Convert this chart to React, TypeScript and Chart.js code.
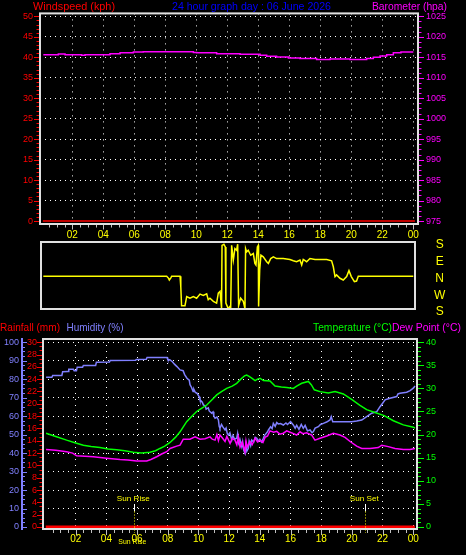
import React, { useEffect, useRef } from 'react';
import { Chart, registerables } from 'chart.js';

Chart.register(...registerables);

const W = 466;
const H = 555;
const FONT = "'Liberation Sans', Arial, sans-serif";

const RED = '#ff0000';
const MAGENTA = '#ff00ff';
const TITLE_BLUE = '#0000ff';
const YELLOW = '#ffff00';
const HUM_BLUE = '#8080ff';
const GREEN = '#00ff00';
const FRAME = '#e0e0e0';
const GRID = '#ffffff';
const TICK_GREY = '#c0c0c0';

// ---------------- text ----------------
const topTitles = ['Windspeed (kph)', '24 hour graph day : 06 June 2026', 'Barometer (hpa)'];
const bottomTitles = ['Rainfall (mm)', 'Humidity (%)', 'Temperature (°C)', 'Dew Point (°C)'];
const compassLabels = ['S', 'W', 'N', 'E', 'S']; // bottom -> top
const sunRiseLabel = 'Sun Rise';
const sunSetLabel = 'Sun Set';

// ---------------- data ----------------
const sunRiseHour = 5.82;
const sunSetHour = 20.87;

const windHours = [0.1, 24.1];
const windSpeed = [0, 0];

const rainHours = [0.05, 24.1];
const rainValues = [0, 0];

const baroHours = [0.13, 1.1, 1.53, 2.6, 2.82, 4.43, 5.08, 5.94, 6.58, 9.81,
  10.02, 11.31, 12.82, 14.11, 14.54, 15.18, 15.94, 16.69, 17.76, 18.62,
  19.91, 20.99, 21.42, 21.85, 22.28, 22.71, 23.2, 24.0];
const baroValues = [1015.64, 1015.8, 1015.64, 1015.48, 1015.64, 1015.88, 1016.12, 1016.28, 1016.36, 1016.2,
  1016.12, 1015.88, 1015.72, 1015.48, 1015.24, 1015.08, 1014.84, 1014.68, 1014.44, 1014.6,
  1014.44, 1014.68, 1015.0, 1015.32, 1015.64, 1016.12, 1016.28, 1016.28];

const dirHours = [0.13, 8.09, 8.2, 8.26, 8.35, 8.41, 8.95, 9.0, 9.05, 9.27,
  9.38, 9.59, 9.81, 10.02, 10.24, 10.45, 10.67, 10.77, 10.88, 11.1,
  11.31, 11.42, 11.53, 11.63, 11.66, 11.7, 11.78, 11.87, 11.91, 12.06,
  12.17, 12.22, 12.28, 12.39, 12.49, 12.6, 12.67, 12.73, 12.86, 13.03,
  13.14, 13.18, 13.25, 13.35, 13.51, 13.68, 13.78, 13.85, 13.94, 14.0,
  14.02, 14.09, 14.17, 14.32, 14.54, 14.65, 14.8, 14.97, 15.18, 15.61,
  16.04, 16.26, 16.47, 16.69, 16.8, 16.9, 17.12, 17.33, 17.66, 18.41,
  18.73, 18.84, 18.95, 19.05, 19.27, 19.48, 19.7, 19.85, 20.0, 20.2,
  20.34, 20.45, 24.0];
const dirBearings = [356, 356, 346, 336, 346, 356, 356, 300, 198, 198,
  247, 238, 247, 238, 260, 253, 262, 230, 238, 221,
  212, 265, 274, 185, 162, 162, 168, 153, 212, 182,
  194, 185, 162, 83, 145, 136, 168, 198, 238, 221,
  182, 145, 127, 136, 109, 118, 65, 56, 153, 162,
  194, 29, 109, 100, 74, 65, 91, 100, 91, 91,
  86, 79, 74, 83, 56, 86, 74, 91, 86, 86,
  79, 47, 354, 3, 345, 336, 354, 26, 354, 327,
  330, 356, 356];

const humHours = [0.07, 0.45, 0.5, 1.1, 1.15, 1.5, 1.55, 1.85, 1.9, 2.05,
  2.1, 2.45, 2.5, 3.3, 3.35, 4.2, 4.25, 5.9, 5.95, 6.6,
  6.65, 7.95, 8.0, 8.15, 8.3, 8.45, 8.6, 8.8, 9.0, 9.1,
  9.25, 9.4, 9.45, 9.55, 9.65, 9.7, 9.8, 9.9, 10.05, 10.1,
  10.25, 10.32, 10.45, 10.5, 10.64, 10.7, 10.86, 10.95, 11.0, 11.08,
  11.2, 11.3, 11.35, 11.4, 11.5, 11.6, 11.73, 11.8, 11.88, 11.95,
  12.05, 12.17, 12.25, 12.35, 12.49, 12.55, 12.62, 12.7, 12.82, 12.88,
  12.95, 13.03, 13.08, 13.15, 13.25, 13.3, 13.4, 13.47, 13.6, 13.7,
  13.8, 13.9, 14.0, 14.1, 14.23, 14.3, 14.4, 14.5, 14.56, 14.7,
  14.8, 14.88, 15.0, 15.1, 15.2, 15.35, 15.53, 15.7, 15.8, 16.0,
  16.18, 16.3, 16.4, 16.55, 16.7, 16.83, 16.95, 17.1, 17.27, 17.4,
  17.49, 17.6, 17.81, 17.95, 18.14, 18.35, 18.57, 18.65, 18.75, 19.44,
  19.98, 20.31, 20.64, 20.96, 21.29, 21.62, 21.83, 22.0, 22.16, 22.48,
  22.92, 23.0, 23.13, 23.57, 23.79, 24.0, 24.11];
const humValues = [81, 81, 82, 82, 84, 84.2, 85.4, 85.4, 84.6, 84.6,
  86.5, 86.5, 87.4, 87.4, 89.2, 89.3, 90.1, 90.2, 90.6, 90.8,
  91.7, 91.7, 90.6, 90.4, 89.4, 88.0, 86.8, 85.0, 84.6, 82.5,
  80.5, 79.5, 77.0, 75.5, 73.3, 74.5, 72.8, 72.4, 70.5, 68.8,
  67.5, 66.1, 65.5, 63.8, 64.5, 62.8, 61.6, 62.3, 60.0, 58.9,
  59.5, 57.9, 54.5, 53.4, 55.5, 54.0, 52.5, 53.5, 50.5, 49.8,
  51.0, 47.1, 49.5, 47.5, 48.0, 50.5, 45.5, 47.5, 43.5, 46.0,
  41.5, 39.9, 44.5, 41.0, 42.6, 46.5, 44.0, 47.1, 46.0, 48.5,
  48.0, 46.5, 47.5, 46.0, 48.0, 49.5, 50.5, 51.5, 52.5, 54.2,
  53.2, 56.1, 54.5, 56.5, 55.8, 56.0, 55.2, 56.3, 55.5, 57.0,
  55.2, 53.5, 55.0, 52.8, 55.5, 53.4, 55.0, 52.0, 52.5, 51.0,
  51.6, 53.5, 54.3, 55.5, 56.1, 56.8, 57.9, 59.7, 57.0, 57.0,
  57.0, 57.4, 57.9, 59.7, 61.6, 62.4, 65.1, 67.0, 68.8, 69.7,
  70.6, 72.0, 72.4, 72.9, 73.8, 75.1, 76.3];

const tempHours = [0.07, 0.7, 1.41, 2.0, 2.5, 3.0, 3.58, 4.1, 4.67, 5.2,
  5.75, 6.3, 6.84, 7.2, 7.49, 7.8, 8.15, 8.5, 8.8, 9.23,
  9.55, 9.88, 10.2, 10.54, 10.9, 11.19, 11.5, 11.84, 12.2, 12.49,
  12.82, 13.0, 13.14, 13.3, 13.47, 13.69, 13.85, 14.01, 14.23, 14.66,
  14.99, 15.4, 15.75, 16.18, 16.4, 16.73, 17.16, 17.35, 17.55, 17.92,
  18.46, 18.9, 19.44, 19.98, 20.5, 20.96, 21.5, 22.1, 22.7, 23.35,
  24.0, 24.11];
const tempValues = [20.3, 19.6, 18.8, 18.2, 17.7, 17.4, 17.2, 16.9, 16.7, 16.5,
  16.2, 16.0, 16.2, 16.5, 17.0, 17.5, 18.3, 19.4, 20.6, 22.8,
  23.9, 25.0, 25.7, 26.4, 27.6, 28.6, 29.3, 30.0, 30.5, 31.1,
  32.2, 32.7, 32.9, 32.6, 32.2, 31.7, 32.0, 32.2, 31.7, 31.6,
  30.5, 30.3, 30.2, 30.0, 30.5, 31.1, 31.5, 30.8, 29.7, 29.3,
  29.0, 29.3, 28.8, 27.6, 26.4, 25.4, 24.8, 24.1, 23.0, 22.1,
  21.6, 21.4];

const dewHours = [0.07, 0.7, 1.41, 1.8, 2.06, 2.6, 3.15, 4.02, 4.89, 5.4,
  5.97, 6.63, 6.9, 7.28, 7.6, 7.93, 8.15, 8.58, 8.8, 9.01,
  9.45, 9.78, 10.1, 10.43, 10.75, 10.9, 11.08, 11.2, 11.3, 11.4,
  11.55, 11.73, 11.85, 12.06, 12.2, 12.38, 12.5, 12.6, 12.71, 12.85,
  13.03, 13.1, 13.18, 13.36, 13.5, 13.69, 13.85, 14.01, 14.2, 14.34,
  14.5, 14.66, 14.9, 15.1, 15.3, 15.53, 15.75, 15.97, 16.2, 16.4,
  16.62, 16.8, 17.05, 17.38, 17.59, 17.92, 18.36, 18.79, 19.22, 19.55,
  19.88, 20.31, 20.64, 21.18, 21.72, 21.94, 22.37, 22.81, 23.35, 23.79,
  24.11];
const dewValues = [16.8, 16.6, 16.3, 16.0, 15.4, 15.3, 15.2, 14.9, 14.6, 14.5,
  14.3, 14.3, 14.6, 15.2, 15.8, 16.3, 17.0, 17.5, 17.7, 19.0,
  19.0, 19.5, 19.0, 19.1, 19.5, 19.0, 18.8, 20.0, 18.7, 19.9,
  19.3, 18.5, 19.6, 18.1, 19.2, 18.8, 17.8, 19.5, 17.3, 18.4,
  16.3, 18.6, 17.3, 18.5, 17.8, 19.2, 18.4, 18.8, 18.3, 19.4,
  19.7, 20.8, 20.5, 20.7, 20.1, 20.3, 20.8, 20.5, 20.2, 19.9,
  20.6, 20.2, 20.4, 19.9, 18.8, 19.2, 19.7, 20.3, 19.9, 19.4,
  18.5, 17.5, 17.0, 17.0, 17.2, 17.7, 17.4, 17.0, 16.8, 16.8,
  17.0];

// ---------------- helpers ----------------
const pts = (xs: number[], ys: number[]) => xs.map((x, i) => ({ x, y: ys[i] }));
const dirToScale = (b: number) => (b < 180 ? b + 360 : b);
const hourLabel = (v: any) => {
  const n = Math.round(Number(v));
  if (n <= 0) return '';
  return String(n % 24).padStart(2, '0');
};
const plainLabel = (v: any) => String(Math.round(Number(v)));
const gridColor = (lo: number, hi: number) => (c: any) => {
  const v = c.tick ? c.tick.value : 0;
  return v > lo && v <= hi ? GRID : 'rgba(0,0,0,0)';
};

function tickRunY(ctx: any, scale: any, from: number, to: number, step: number, major: number,
  x0: number, majLen: number, minLen: number, color: string) {
  ctx.save();
  ctx.strokeStyle = color;
  ctx.lineWidth = 1;
  const n = Math.round((to - from) / step);
  for (let i = 0; i <= n; i++) {
    const v = from + i * step;
    const isMajor = Math.abs(v / major - Math.round(v / major)) < 1e-6;
    const y = Math.round(scale.getPixelForValue(v)) + 0.5;
    ctx.beginPath();
    ctx.moveTo(x0, y);
    ctx.lineTo(x0 + (isMajor ? majLen : minLen), y);
    ctx.stroke();
  }
  ctx.restore();
}

function tickRunX(ctx: any, scale: any, from: number, to: number, step: number, major: number,
  y0: number, majLen: number, minLen: number, color: string) {
  ctx.save();
  ctx.strokeStyle = color;
  ctx.lineWidth = 1;
  const n = Math.round((to - from) / step);
  for (let i = 0; i <= n; i++) {
    const v = from + i * step;
    const isMajor = Math.abs(v / major - Math.round(v / major)) < 1e-6;
    const x = Math.round(scale.getPixelForValue(v)) + 0.5;
    ctx.beginPath();
    ctx.moveTo(x, y0);
    ctx.lineTo(x, y0 + (isMajor ? majLen : minLen));
    ctx.stroke();
  }
  ctx.restore();
}

function fitText(ctx: any, text: string, x: number, y: number, width: number, size: number, color: string) {
  ctx.save();
  ctx.font = `${size}px ${FONT}`;
  ctx.fillStyle = color;
  ctx.textAlign = 'left';
  ctx.textBaseline = 'alphabetic';
  const m = ctx.measureText(text).width || 1;
  ctx.translate(x, y);
  ctx.scale(width / m, 1);
  ctx.fillText(text, 0, 0);
  ctx.restore();
}

function frame(ctx: any, a: any) {
  ctx.save();
  ctx.strokeStyle = FRAME;
  ctx.lineWidth = 2;
  ctx.strokeRect(a.left, a.top, a.right - a.left, a.bottom - a.top);
  ctx.restore();
}

const baseOptions = {
  responsive: false,
  animation: false as const,
  events: [] as any[],
  devicePixelRatio: 1,
  plugins: { legend: { display: false }, title: { display: false }, tooltip: { enabled: false } },
};

const tickFont = (size: number) => ({ family: FONT, size });
const Y_FONT = 9;
const X_FONT = 10;

// ---------------- top chart (windspeed / barometer) ----------------
function topConfig(): any {
  const decor = {
    id: 'topDecor',
    afterDraw(chart: any) {
      const ctx = chart.ctx;
      const a = chart.chartArea;
      const { x, yw, yb } = chart.scales;
      tickRunY(ctx, yw, 0, 50, 1, 5, a.left - 1, -5, -2.5, RED);
      tickRunY(ctx, yb, 975, 1025, 1.25, 5, a.right + 1, 5, 2.5, MAGENTA);
      tickRunX(ctx, x, 0.5, 24, 0.5, 2, a.bottom + 1, 4.5, 2.5, TICK_GREY);
      frame(ctx, a);
      fitText(ctx, topTitles[0], 33, 9.5, 82, 11, RED);
      fitText(ctx, topTitles[1], 172, 9.5, 159, 11, TITLE_BLUE);
      fitText(ctx, topTitles[2], 372, 9.5, 75, 11, MAGENTA);
    },
  };
  return {
    type: 'line',
    data: {
      datasets: [
        { data: pts(baroHours, baroValues), yAxisID: 'yb', borderColor: MAGENTA, borderWidth: 1.5, pointRadius: 0, stepped: true },
        { data: pts(windHours, windSpeed), yAxisID: 'yw', borderColor: RED, borderWidth: 1.5, pointRadius: 0 },
      ],
    },
    options: {
      ...baseOptions,
      layout: { padding: { top: 10, left: 0, right: 0, bottom: 311 } },
      scales: {
        x: {
          type: 'linear', position: 'bottom', min: -0.084, max: 24.3,
          afterFit: (s: any) => { s.height = 20; },
          ticks: { stepSize: 2, includeBounds: false, autoSkip: false, maxRotation: 0, padding: 5, color: YELLOW, font: tickFont(X_FONT), callback: hourLabel },
          grid: { color: gridColor(0, 100), lineWidth: 1, drawTicks: false },
          border: { display: false, dash: [1, 5] },
        },
        yw: {
          type: 'linear', position: 'left', min: -0.72, max: 50.72,
          afterFit: (s: any) => { s.width = 40; },
          ticks: { stepSize: 5, includeBounds: false, autoSkip: false, padding: 7, color: RED, font: tickFont(Y_FONT), callback: plainLabel },
          grid: { color: gridColor(0, 100), lineWidth: 1, drawTicks: false },
          border: { display: false, dash: [1, 4] },
        },
        yb: {
          type: 'linear', position: 'right', min: 974.28, max: 1025.72,
          afterFit: (s: any) => { s.width = 48; },
          ticks: { stepSize: 5, includeBounds: false, autoSkip: false, padding: 8, color: MAGENTA, font: tickFont(Y_FONT), callback: plainLabel },
          grid: { display: false, drawTicks: false },
          border: { display: false },
        },
      },
    },
    plugins: [decor],
  };
}

// ---------------- wind direction chart ----------------
function dirConfig(): any {
  const decor = {
    id: 'dirDecor',
    afterDraw(chart: any) {
      frame(chart.ctx, chart.chartArea);
    },
  };
  return {
    type: 'line',
    data: {
      datasets: [
        { data: pts(dirHours, dirBearings.map(dirToScale)), yAxisID: 'yd', borderColor: YELLOW, borderWidth: 1.5, pointRadius: 0 },
      ],
    },
    options: {
      ...baseOptions,
      layout: { padding: { top: 242, left: 41, right: 0, bottom: 246 } },
      scales: {
        x: { type: 'linear', display: false, min: -0.019, max: 24.11 },
        yd: {
          type: 'linear', position: 'right', min: 180, max: 540,
          afterFit: (s: any) => { s.width = 51; },
          ticks: {
            stepSize: 90, includeBounds: false, autoSkip: false, padding: 19, crossAlign: 'center', labelOffset: 3,
            color: YELLOW, font: tickFont(12),
            callback: (v: any) => compassLabels[Math.round((Number(v) - 180) / 90)],
          },
          grid: { display: false, drawTicks: false },
          border: { display: false },
        },
      },
    },
    plugins: [decor],
  };
}

// ---------------- bottom chart (temp / humidity / dew / rain) ----------------
function bottomConfig(): any {
  const decor = {
    id: 'bottomDecor',
    afterDraw(chart: any) {
      const ctx = chart.ctx;
      const a = chart.chartArea;
      const { x, yh, yr, yt } = chart.scales;
      ctx.save();
      ctx.strokeStyle = HUM_BLUE;
      ctx.lineWidth = 2;
      ctx.beginPath();
      ctx.moveTo(yh.right - 1, a.top - 1);
      ctx.lineTo(yh.right - 1, a.bottom + 1);
      ctx.stroke();
      ctx.restore();
      tickRunY(ctx, yh, 0, 100, 2.5, 10, yh.right, 4, 2, HUM_BLUE);
      tickRunY(ctx, yr, 0, 30, 2 / 3, 2, a.left - 1, -5, -2.5, RED);
      tickRunY(ctx, yt, 0, 40, 1, 5, a.right + 1, 6, 3, GREEN);
      tickRunX(ctx, x, 0.5, 24, 0.5, 2, a.bottom + 1, 5, 3, TICK_GREY);

      const marks = [[sunRiseHour, sunRiseLabel, 33], [sunSetHour, sunSetLabel, 29]] as any[];
      for (const [hr, label, wid] of marks) {
        const px = x.getPixelForValue(hr);
        const lx = Math.round(px) + 0.5;
        ctx.save();
        ctx.lineWidth = 1;
        ctx.strokeStyle = '#ffffff';
        ctx.beginPath();
        ctx.moveTo(lx, a.bottom - 25);
        ctx.lineTo(lx, a.bottom - 17.5);
        ctx.stroke();
        ctx.strokeStyle = YELLOW;
        ctx.setLineDash([1, 2]);
        ctx.beginPath();
        ctx.moveTo(lx, a.bottom - 17.5);
        ctx.lineTo(lx, a.bottom + 4);
        ctx.stroke();
        ctx.restore();
        fitText(ctx, label, px - wid / 2 - 1, a.bottom - 28, wid, 8, YELLOW);
      }
      const sr = x.getPixelForValue(sunRiseHour);
      fitText(ctx, sunRiseLabel, sr - 16, a.bottom + 14.5, 28, 8, YELLOW);

      frame(ctx, a);
      fitText(ctx, bottomTitles[0], 0, 330.5, 60, 10.5, RED);
      fitText(ctx, bottomTitles[1], 66.5, 330.5, 57, 10.5, HUM_BLUE);
      fitText(ctx, bottomTitles[2], 313, 330.5, 79, 10.5, GREEN);
      fitText(ctx, bottomTitles[3], 392, 330.5, 69, 10.5, MAGENTA);
    },
  };
  return {
    type: 'line',
    data: {
      datasets: [
        { data: pts(rainHours, rainValues), yAxisID: 'yr', borderColor: RED, borderWidth: 3, pointRadius: 0, order: 0 },
        { data: pts(dewHours, dewValues), yAxisID: 'yt', borderColor: MAGENTA, borderWidth: 1.5, pointRadius: 0, order: 1 },
        { data: pts(tempHours, tempValues), yAxisID: 'yt', borderColor: GREEN, borderWidth: 1.5, pointRadius: 0, order: 2 },
        { data: pts(humHours, humValues), yAxisID: 'yh', borderColor: HUM_BLUE, borderWidth: 1.5, pointRadius: 0, order: 3 },
      ],
    },
    options: {
      ...baseOptions,
      layout: { padding: { top: 339, left: 0, right: 0, bottom: 0 } },
      scales: {
        x: {
          type: 'linear', position: 'bottom', min: -0.13, max: 24.24,
          afterFit: (s: any) => { s.height = 26; },
          ticks: { stepSize: 2, includeBounds: false, autoSkip: false, maxRotation: 0, padding: 4, color: YELLOW, font: tickFont(X_FONT), callback: hourLabel },
          grid: { color: gridColor(0, 100), lineWidth: 1, drawTicks: false },
          border: { display: false, dash: [1, 5] },
        },
        yh: {
          type: 'linear', position: 'left', weight: 2, min: -1.08, max: 101.73,
          afterFit: (s: any) => { s.width = 23; },
          ticks: { stepSize: 10, includeBounds: false, autoSkip: false, padding: 4, color: HUM_BLUE, font: tickFont(Y_FONT), callback: plainLabel },
          grid: { color: gridColor(0, 100), lineWidth: 1, drawTicks: false },
          border: { display: false, dash: [1, 4] },
        },
        yr: {
          type: 'linear', position: 'left', weight: 1, min: -0.325, max: 30.52,
          afterFit: (s: any) => { s.width = 20; },
          ticks: { stepSize: 2, includeBounds: false, autoSkip: false, padding: 6, color: RED, font: tickFont(Y_FONT), callback: plainLabel },
          grid: { display: false, drawTicks: false },
          border: { display: false },
        },
        yt: {
          type: 'linear', position: 'right', min: -0.433, max: 40.69,
          afterFit: (s: any) => { s.width = 49; },
          ticks: { stepSize: 5, includeBounds: false, autoSkip: false, padding: 9, color: GREEN, font: tickFont(Y_FONT), callback: plainLabel },
          grid: { display: false, drawTicks: false },
          border: { display: false },
        },
      },
    },
    plugins: [decor],
  };
}

export default function App() {
  const topRef = useRef<HTMLCanvasElement>(null);
  const dirRef = useRef<HTMLCanvasElement>(null);
  const botRef = useRef<HTMLCanvasElement>(null);

  useEffect(() => {
    const charts: Chart[] = [];
    if (topRef.current) charts.push(new Chart(topRef.current, topConfig()));
    if (dirRef.current) charts.push(new Chart(dirRef.current, dirConfig()));
    if (botRef.current) charts.push(new Chart(botRef.current, bottomConfig()));
    return () => { charts.forEach((c) => c.destroy()); };
  }, []);

  const cv: React.CSSProperties = { position: 'absolute', left: 0, top: 0, width: W, height: H };
  return (
    <div style={{ position: 'absolute', left: 0, top: 0, width: W, height: H, background: '#000', overflow: 'hidden' }}>
      <canvas ref={topRef} width={W} height={H} style={cv} />
      <canvas ref={dirRef} width={W} height={H} style={cv} />
      <canvas ref={botRef} width={W} height={H} style={cv} />
    </div>
  );
}
